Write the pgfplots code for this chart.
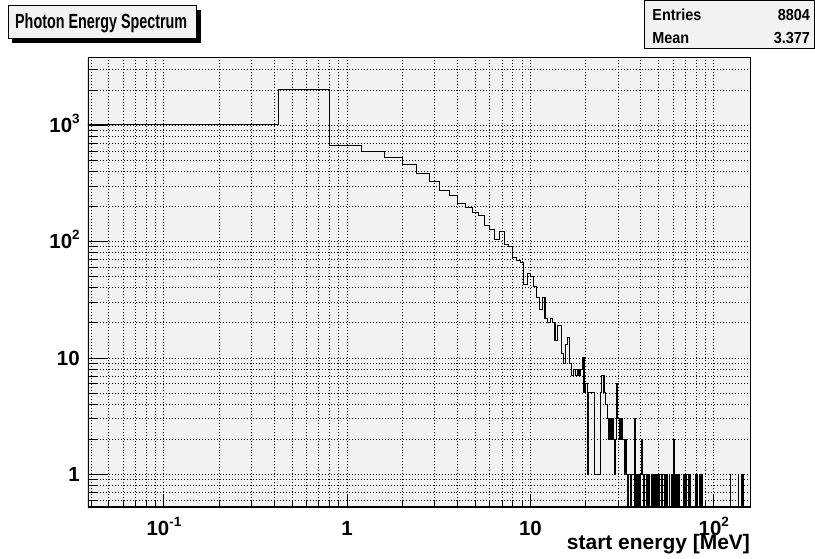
\documentclass[border=0pt]{standalone}
\usepackage{fontspec}
\setmainfont{Liberation Sans}
\newfontfamily\titlefont[FakeStretch=0.7]{Liberation Sans}
\newfontfamily\statfont[FakeStretch=0.9]{Liberation Sans}
\usepackage{pgfplots}
\usepackage{pgfplotstable}
\pgfplotsset{compat=1.18}

\definecolor{panelgray}{HTML}{F2F2F2}

% power-of-ten tick labels with a raised exponent
\newcommand{\tpow}[1]{10\raisebox{9pt}{\fontsize{13.5}{13.5}\selectfont #1}}

% histogram of photon start energies: low bin edge [MeV], counts
% (bins of 0.4 MeV; runs of equal counts are written once)
\pgfplotstableread{
lo n
0.01 1005
0.42 2010
0.8 671
1.2 596
1.6 529
2.0 461
2.4 385
2.8 327
3.2 274
3.6 248
4.0 213
4.4 196
4.8 178
5.2 166
5.6 137
6.0 127
6.4 105
6.8 122
7.2 94
7.6 91
8.0 73
8.4 69
8.8 66
9.2 43
9.6 53
10.0 50
10.4 41
10.8 33
11.2 26
11.6 33
12.0 22
12.4 20
12.8 22
13.2 20
13.6 14
14.0 19
14.4 19
14.8 11
15.2 9
15.6 13
16.0 15
16.4 9
16.8 7
17.2 8
17.6 7
18.0 8
18.4 7
18.8 8
19.2 10
19.6 5
20.0 6
20.4 1
20.8 5
22.4 1
24.0 5
24.4 7
25.2 5
25.6 4
26.4 3
26.8 2
27.2 3
27.6 2
28.0 3
28.4 2
28.8 1
29.2 2
29.6 6
30.0 3
30.8 2
31.2 3
31.6 2
32.4 1
32.8 2
33.2 1
34.0 0
34.4 1
35.2 0
35.6 1
36.8 0
37.2 3
37.6 1
38.0 0
38.4 1
38.8 0
39.2 1
39.6 0
40.0 1
40.4 2
40.8 1
41.6 0
42.0 1
42.8 0
43.2 1
44.0 0
44.4 1
44.8 0
45.6 1
46.4 0
47.2 1
47.6 0
48.0 1
48.4 0
49.2 1
49.6 0
50.0 1
50.4 0
50.8 1
51.6 0
52.0 1
52.4 0
52.8 1
53.6 0
54.0 1
54.4 0
55.6 1
56.0 0
57.2 1
57.6 0
58.8 1
59.2 0
60.4 2
60.8 0
61.6 1
62.0 0
62.8 1
63.2 0
64.4 1
64.8 0
68.4 1
68.8 0
69.6 1
70.0 0
70.8 1
71.2 0
72.4 1
72.8 0
74.0 1
74.4 0
79.6 1
80.0 0
81.2 1
81.6 0
83.2 1
83.6 0
84.8 1
85.2 0
86.0 1
86.4 0
123.2 1
123.6 0
136.4 1
136.8 0
142.4 1
142.8 0
145.2 1
145.6 0
160 0
}\spectrum

\begin{document}
\begin{tikzpicture}[font=\bfseries]
\begin{scope}[x=1pt,y=1pt]
\useasboundingbox (0,0) rectangle (815,558);
\fill[white] (0,0) rectangle (815,558);
\end{scope}

\begin{axis}[
  at={(88pt,51pt)}, anchor=south west,
  scale only axis, width=663pt, height=450pt,
  xmode=log, ymode=log,
  xmin=0.0385, xmax=158, ymin=0.52, ymax=3790,
  axis background/.style={fill=panelgray},
  axis line style={line width=0.8pt},
  tick pos=left, tick align=inside,
  xtick={0.1,1,10,100},
  xticklabels={\tpow{-1},1,10,\tpow{2}},
  minor xtick={0.04,0.05,0.06,0.07,0.08,0.09,0.2,0.3,0.4,0.5,0.6,0.7,0.8,0.9,2,3,4,5,6,7,8,9,20,30,40,50,60,70,80,90},
  ytick={1,10,100,1000},
  yticklabels={1,10,\tpow{2}\hspace{7pt},\tpow{3}\hspace{7pt}},
  minor ytick={0.6,0.7,0.8,0.9,2,3,4,5,6,7,8,9,20,30,40,50,60,70,80,90,200,300,400,500,600,700,800,900,2000,3000},
  major x tick style={/pgfplots/major tick length=13.5pt, line width=0.8pt, black},
  minor x tick style={/pgfplots/minor tick length=7pt, line width=0.8pt, black},
  major y tick style={/pgfplots/major tick length=20pt, line width=0.8pt, black},
  minor y tick style={/pgfplots/minor tick length=9pt, line width=0.8pt, black},
  grid=both,
  major grid style={black, line width=0.8pt, dash pattern=on 0.9pt off 2.1pt},
  minor grid style={black, line width=0.8pt, dash pattern=on 0.9pt off 2.1pt},
  tick label style={font=\fontsize{20.5}{21}\selectfont\bfseries},
  xticklabel style={anchor=base, yshift=-28pt},
  yticklabel style={anchor=base east, inner sep=0pt, xshift=-8pt, yshift=-7.3pt},
  xlabel={start energy [MeV]},
  xlabel style={at={(rel axis cs:1,0)}, anchor=base east, inner sep=0pt, yshift=-42pt,
    font=\fontsize{21}{22}\selectfont\bfseries},
]
\addplot[const plot mark left, black, line width=1.1pt]
  table[x=lo, y expr={max(\thisrow{n},0.01)}] {\spectrum};
\draw[line width=2pt] (rel axis cs:0,1) |- (rel axis cs:1,0);
\end{axis}

\begin{scope}[x=1pt,y=1pt]
% title box with drop shadow
\fill[black] (12.5,515.5) rectangle (201.5,548.5);
\filldraw[fill=panelgray, draw=black, line width=0.8pt] (8,520) rectangle (197,553);
\node[anchor=base west, inner sep=0pt, font=\fontsize{20.5}{22}\titlefont\bfseries]
  at (15,530.5) {Photon Energy Spectrum};

% statistics box
\filldraw[fill=panelgray, draw=black, line width=0.8pt] (645,510) rectangle (815.5,558.5);
\node[anchor=base west, inner sep=0pt, font=\fontsize{16}{17}\statfont\bfseries] at (653,538) {Entries};
\node[anchor=base east, inner sep=0pt, font=\fontsize{16}{17}\statfont\bfseries] at (811,538) {8804};
\node[anchor=base west, inner sep=0pt, font=\fontsize{16}{17}\statfont\bfseries] at (653,515) {Mean};
\node[anchor=base east, inner sep=0pt, font=\fontsize{16}{17}\statfont\bfseries] at (811,515) {3.377};
\end{scope}
\end{tikzpicture}
\end{document}
